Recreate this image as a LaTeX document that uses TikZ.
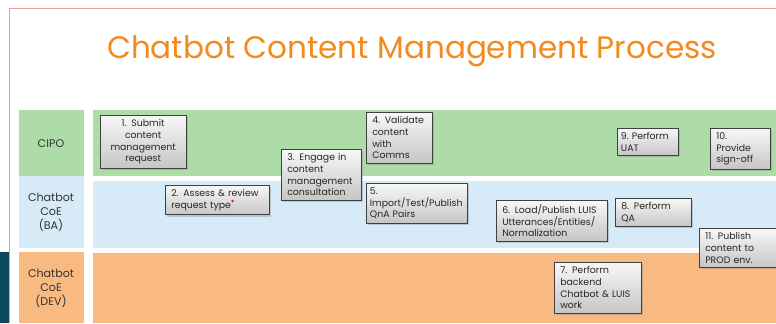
\documentclass[tikz,border=0pt]{standalone}
\usepackage{fontspec}
\setmainfont{Poppins}
\usetikzlibrary{shadows}

\definecolor{cipogreen}{HTML}{AEDCA9}
\definecolor{bablue}{HTML}{D6EBF7}
\definecolor{devorange}{HTML}{F8BA80}
\definecolor{titleorange}{HTML}{F28A1E}
\definecolor{slideteal}{HTML}{0B4A5C}
\definecolor{slidepink}{HTML}{E6A0A0}
\definecolor{boxline}{HTML}{404040}

\hyphenpenalty=10000
\exhyphenpenalty=10000

\tikzset{
    taskbox/.style={draw=boxline, line width=0.7pt, top color=gray!6, bottom color=gray!45,
        drop shadow={shadow xshift=1.5pt, shadow yshift=-1.5pt, opacity=0.35},
        anchor=north west, align=left, text width=#1, inner xsep=5pt, inner ysep=3.5pt,
        font=\fontsize{8}{10}\selectfont, text=black!85},
    lanelabel/.style={align=center, font=\fontsize{9.5}{12}\selectfont, text=black!80}
}

\begin{document}
\begin{tikzpicture}[x=0.03cm, y=-0.03cm]
    \useasboundingbox (0,0) rectangle (776,323);

    % slide frame
    \fill[slideteal] (0,252) rectangle (9,323);
    \draw[slidepink, line width=0.6pt] (9,323) -- (9,8) -- (776,8);

    \node[text=titleorange, font=\fontsize{26.5}{32}\selectfont] (title) at (412,51) {Chatbot Content Management Process};

    % swim lanes
    \fill[cipogreen] (19,110) rectangle (84,176);
    \fill[bablue] (19,176) rectangle (84,248);
    \fill[devorange] (19,252) rectangle (84,323);
    \fill[cipogreen] (93,110) rectangle (776,176);
    \fill[bablue] (93,181) rectangle (776,248);
    \fill[devorange] (93,253) rectangle (776,323);

    \node[lanelabel] (cipo) at (51,144) {CIPO};
    \node[lanelabel] (coeba) at (51,212) {Chatbot\\CoE\\(BA)};
    \node[lanelabel] (coedev) at (51,288) {Chatbot\\CoE\\(DEV)};

    % process steps
    \node[taskbox=63pt, align=center] (submit) at (100,115) {1. Submit\\content\\management\\request};
    \node[taskbox=78.5pt] (assess) at (165,185) {2. Assess \& review\\request type\textsuperscript{\textcolor{red}{\textbf{*}}}};
    \node[taskbox=58pt] (engage) at (281,149) {3. Engage in\\content\\management\\consultation};
    \node[taskbox=46pt] (validate) at (366,112) {4. Validate\\content\\with\\Comms};
    \node[taskbox=80pt, inner xsep=3pt] (import) at (366,183) {5.\\Import/Test/Publish\\QnA Pairs};
    \node[taskbox=84.4pt] (load) at (496,200) {6. Load/Publish LUIS\\Utterances/Entities/\\Normalization};
    \node[taskbox=64pt] (backend) at (554,262) {7. Perform\\backend\\Chatbot \& LUIS\\work};
    \node[taskbox=54.6pt] (qa) at (615,198) {8. Perform\\QA};
    \node[taskbox=46pt, inner xsep=3pt] (uat) at (617,128) {9.~Perform\\UAT};
    \node[taskbox=41pt] (signoff) at (710,128) {10.\\Provide\\sign-off};
    \node[taskbox=57pt] (publish) at (699,228) {11. Publish\\content to\\PROD env.};
\end{tikzpicture}
\end{document}
